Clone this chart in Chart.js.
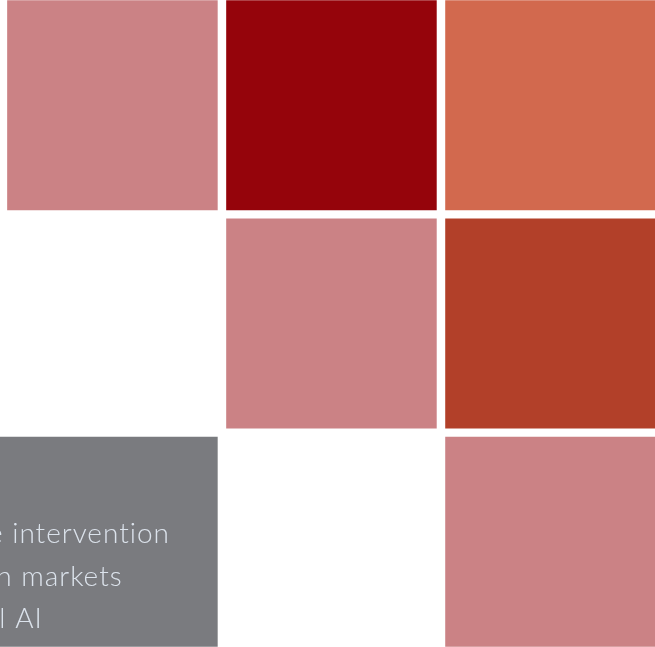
<!DOCTYPE html>
<html>
<head>
<meta charset="utf-8">
<script src="https://cdn.jsdelivr.net/npm/chart.js@4/dist/chart.umd.min.js"></script>
<style>
  html, body { margin: 0; padding: 0; background: #ffffff; overflow: hidden; width: 655px; height: 647px; }
  #wrap { position: absolute; left: -19px; top: -4px; width: 679px; height: 655px; }
</style>
</head>
<body>
<div id="wrap"><canvas id="c"></canvas></div>
<script>
// ---- data ----
const rowLabels = ['Row 1', 'Row 2', 'Row 3'];
const tileRows   = [0, 0, 0, 1, 1, 2];
const tileCols   = [0, 1, 2, 1, 2, 2];
const tileLevels = [1, 4, 2, 1, 3, 1];
const levelColors = ['#ffffff', '#CB8285', '#D2694E', '#B24029', '#95040B'];
const panelRow = 2;
const panelCol = 0;
const panelLines = ['e intervention', 'n markets', 'l AI'];
const panelLead  = ['e ', 'n ', 'l '];

// ---- layout constants ----
const GAP = 8.5 / 219;        // gap between tiles, in column units
const X_MIN = -0.1, X_MAX = 3;

const tileData = tileRows.map((r, i) => ({
  y: rowLabels[r],
  x: [tileCols[i] + GAP / 2, tileCols[i] + 1 - GAP / 2]
}));
const tileColors = tileLevels.map(l => levelColors[l]);

const panelData = [{ y: rowLabels[panelRow], x: [X_MIN - 0.2, panelCol + 1 - GAP / 2] }];

const panelText = {
  id: 'panelText',
  afterDatasetsDraw(chart) {
    const meta = chart.getDatasetMeta(1);
    const bar = meta.data[0];
    if (!bar) return;
    const xs = chart.scales.x;
    const left = xs.getPixelForValue(panelCol + GAP / 2) + 5;
    const top = bar.y - bar.height / 2;
    const ctx = chart.ctx;
    ctx.save();
    ctx.font = '300 28px Lato, "Open Sans", sans-serif';
    if ('letterSpacing' in ctx) ctx.letterSpacing = '1px';
    ctx.fillStyle = '#DCE3EC';
    ctx.textBaseline = 'alphabetic';
    ctx.textAlign = 'left';
    const offsets = [106, 149, 191];
    const starts = [left, left + 9, left + 3];
    panelLines.forEach((t, i) => {
      const lead = ctx.measureText(panelLead[i]).width;
      ctx.fillText(t, starts[i] - lead, top + offsets[i]);
    });
    ctx.restore();
  }
};

new Chart(document.getElementById('c'), {
  type: 'bar',
  data: {
    labels: rowLabels,
    datasets: [
      {
        label: 'Tiles',
        data: tileData,
        backgroundColor: tileColors,
        borderWidth: 0,
        grouped: false,
        barPercentage: 210 / 218.33,
        categoryPercentage: 1
      },
      {
        label: 'Panel',
        data: panelData,
        backgroundColor: '#7A7B7F',
        borderWidth: 0,
        grouped: false,
        clip: false,
        barPercentage: 210 / 218.33,
        categoryPercentage: 1
      }
    ]
  },
  options: {
    indexAxis: 'y',
    responsive: true,
    maintainAspectRatio: false,
    animation: false,
    layout: { padding: 0 },
    scales: {
      x: { type: 'linear', min: X_MIN, max: X_MAX, display: false },
      y: { type: 'category', display: false }
    },
    plugins: { legend: { display: false }, tooltip: { enabled: false } }
  },
  plugins: [panelText]
});
</script>
</body>
</html>
